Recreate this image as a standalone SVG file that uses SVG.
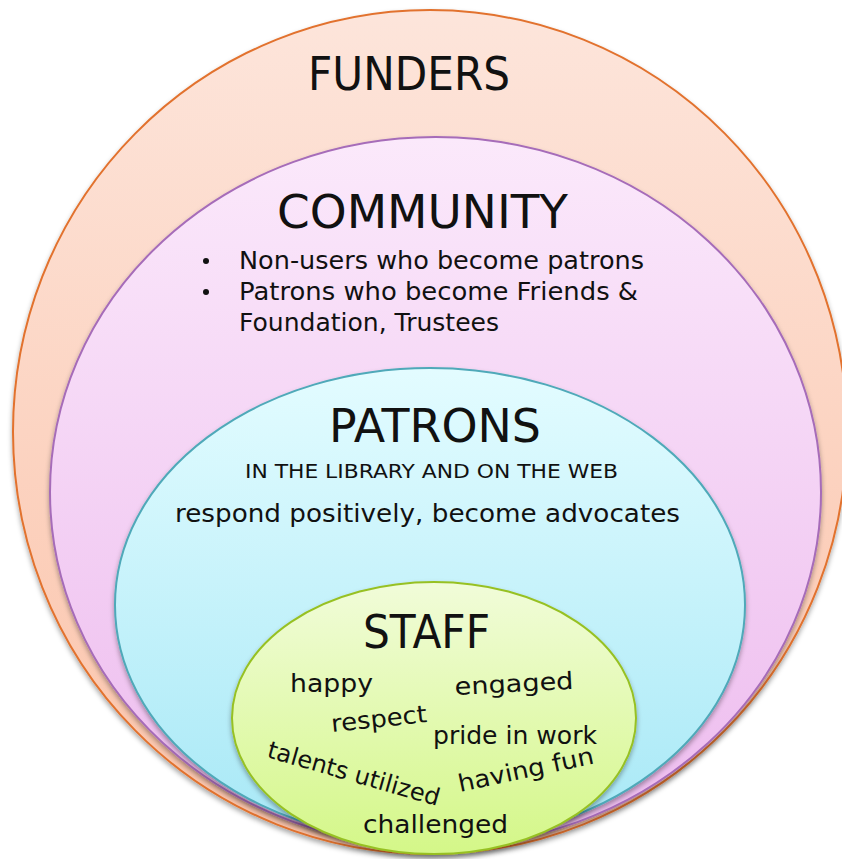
<svg xmlns="http://www.w3.org/2000/svg" width="842" height="859" viewBox="0 0 842 859">
  <defs>
    <linearGradient id="gFund" x1="0" y1="0" x2="0" y2="1">
      <stop offset="0" stop-color="#FDE5DB"/>
      <stop offset="1" stop-color="#FBC3A9"/>
    </linearGradient>
    <linearGradient id="gComm" x1="0" y1="0" x2="0" y2="1">
      <stop offset="0" stop-color="#FBE9FB"/>
      <stop offset="1" stop-color="#EDBBEE"/>
    </linearGradient>
    <linearGradient id="gPat" x1="0" y1="0" x2="0" y2="1">
      <stop offset="0" stop-color="#E3FCFF"/>
      <stop offset="1" stop-color="#A7E8F6"/>
    </linearGradient>
    <linearGradient id="gStaff" x1="0" y1="0" x2="0" y2="1">
      <stop offset="0" stop-color="#F1FCD9"/>
      <stop offset="1" stop-color="#D4F788"/>
    </linearGradient>
    <filter id="shadow" x="-10%" y="-10%" width="120%" height="125%">
      <feDropShadow dx="0" dy="3" stdDeviation="2.5" flood-color="#000" flood-opacity="0.35"/>
    </filter>
  </defs>
  <style>
    .ring { stroke-width: 2; filter: url(#shadow); }
    .t { font-family: "DejaVu Sans", "Liberation Sans", sans-serif; fill: #111; }
    .title { font-size: 46px; }
    .body { font-size: 24px; }
    .small { font-size: 20px; }
  </style>
  <rect width="842" height="859" fill="#FFFFFF"/>

  <g id="funders">
    <ellipse class="ring" cx="430" cy="432" rx="417" ry="422" fill="url(#gFund)" stroke="#E2722E"/>
    <text class="t title" x="308" y="90" textLength="202" lengthAdjust="spacingAndGlyphs" font-size="48">FUNDERS</text>
  </g>

  <g id="community">
    <ellipse class="ring" cx="435.5" cy="492" rx="385.5" ry="355" fill="url(#gComm)" stroke="#A66CB9"/>
    <text class="t title" x="277" y="228" textLength="291" lengthAdjust="spacingAndGlyphs" font-size="49">COMMUNITY</text>
    <circle cx="206" cy="261" r="3" fill="#111"/>
    <circle cx="206" cy="292" r="3" fill="#111"/>
    <text class="t body" x="239" y="269" textLength="405" lengthAdjust="spacingAndGlyphs">Non-users who become patrons</text>
    <text class="t body" x="239" y="300" textLength="399" lengthAdjust="spacingAndGlyphs">Patrons who become Friends &amp;</text>
    <text class="t body" x="239" y="331" textLength="260" lengthAdjust="spacingAndGlyphs">Foundation, Trustees</text>
  </g>

  <g id="patrons">
    <ellipse class="ring" cx="430" cy="605" rx="315" ry="237" fill="url(#gPat)" stroke="#4FA9B9"/>
    <text class="t title" x="329" y="442" textLength="212" lengthAdjust="spacingAndGlyphs" font-size="44">PATRONS</text>
    <text class="t small" x="245" y="478" textLength="373" lengthAdjust="spacingAndGlyphs">IN THE LIBRARY AND ON THE WEB</text>
    <text class="t body" x="175" y="522" textLength="505" lengthAdjust="spacingAndGlyphs">respond positively, become advocates</text>
  </g>

  <g id="staff">
    <ellipse class="ring" cx="434" cy="718" rx="202" ry="136" fill="url(#gStaff)" stroke="#97C124"/>
    <text class="t title" x="363" y="648" textLength="127" lengthAdjust="spacingAndGlyphs" font-size="45">STAFF</text>
    <text class="t body" x="290" y="692" textLength="83" lengthAdjust="spacingAndGlyphs">happy</text>
    <text class="t body" x="455" y="695" textLength="119" lengthAdjust="spacingAndGlyphs" transform="rotate(-3 455 695)">engaged</text>
    <text class="t body" x="332" y="732" textLength="96" lengthAdjust="spacingAndGlyphs" transform="rotate(-6 332 732)">respect</text>
    <text class="t body" x="433" y="744" textLength="164" lengthAdjust="spacingAndGlyphs">pride in work</text>
    <text class="t body" x="266" y="757" textLength="178" lengthAdjust="spacingAndGlyphs" transform="rotate(16 266 757)">talents utilized</text>
    <text class="t body" x="460" y="792" textLength="138" lengthAdjust="spacingAndGlyphs" transform="rotate(-12 460 792)">having fun</text>
    <text class="t body" x="363" y="833" textLength="145" lengthAdjust="spacingAndGlyphs">challenged</text>
  </g>

  <g id="connectors"/>
</svg>
